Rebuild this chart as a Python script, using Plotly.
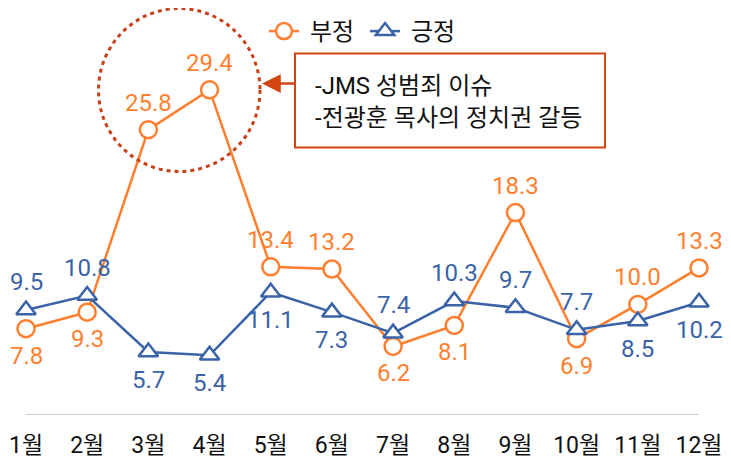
import plotly.graph_objects as go

months = ["1월", "2월", "3월", "4월", "5월", "6월", "7월", "8월", "9월", "10월", "11월", "12월"]
negative = [7.8, 9.3, 25.8, 29.4, 13.4, 13.2, 6.2, 8.1, 18.3, 6.9, 10.0, 13.3]
positive = [9.5, 10.8, 5.7, 5.4, 11.1, 9.3, 7.4, 10.3, 9.7, 7.7, 8.5, 10.2]
negative_labels = ["7.8", "9.3", "25.8", "29.4", "13.4", "13.2", "6.2", "8.1", "18.3", "6.9", "10.0", "13.3"]
positive_labels = ["9.5", "10.8", "5.7", "5.4", "11.1", "7.3", "7.4", "10.3", "9.7", "7.7", "8.5", "10.2"]
neg_label_pos = ["below", "below", "above", "above", "above", "above", "below", "below", "above", "below", "above", "above"]
pos_label_pos = ["above", "above", "below", "below", "below", "below", "above", "above", "above", "above", "below", "below"]
note_lines = ["-JMS 성범죄 이슈", "-전광훈 목사의 정치권 갈등"]
series_names = ["\u00a0부정\u00a0", "\u00a0긍정"]

ORANGE = "#FF7F2F"
BLUE = "#3A63A8"
RED = "#D24512"
FONT = "Roboto, 'Noto Sans CJK KR', sans-serif"

OFF = 8  # page body margin
W, H = 731 - OFF, 458 - OFF
T, B = 12, 43
PH = H - T - B

def py(p):
    # p: pixel y in reference image
    return (H - B - (p - OFF)) / PH

def px(p):
    return (p - OFF) / W

fig = go.Figure()
fig.add_trace(go.Scatter(
    x=months, y=negative, name=series_names[0], mode="lines+markers",
    line=dict(color=ORANGE, width=2.5),
    marker=dict(symbol="circle", size=17, color="white", line=dict(color=ORANGE, width=2.5)),
))
fig.add_trace(go.Scatter(
    x=months, y=positive, name=series_names[1], mode="lines+markers",
    line=dict(color=BLUE, width=2.5),
    marker=dict(symbol="triangle-up", size=17, color="white", line=dict(color=BLUE, width=2.5)),
))

annotations = []
for m, v, t, p in zip(months, negative, negative_labels, neg_label_pos):
    annotations.append(dict(x=m, y=v, text=t, showarrow=False,
                            yshift=27 if p == "above" else -27,
                            font=dict(family=FONT, size=24, color=ORANGE)))
for m, v, t, p in zip(months, positive, positive_labels, pos_label_pos):
    annotations.append(dict(x=m, y=v, text=t, showarrow=False,
                            yshift=28 if p == "above" else -28,
                            font=dict(family=FONT, size=24, color=BLUE)))

for i, line in enumerate(note_lines):
    annotations.append(dict(xref="paper", yref="paper", x=px(313), y=py(86 + 32 * i),
                            xanchor="left", yanchor="middle", text=line, showarrow=False,
                            font=dict(family=FONT, size=24, color="#111111")))

# arrow pointing to the circle
annotations.append(dict(xref="paper", yref="paper", x=px(262), y=py(83.5),
                        ax=34, ay=0, text="", showarrow=True,
                        arrowhead=2, arrowsize=1.5, arrowwidth=2.5, arrowcolor=RED))

shapes = [
    dict(type="line", xref="x", yref="y", x0=months[0], x1=months[-1], y0=0, y1=0,
         line=dict(color="#BFBFBF", width=1.5)),
    dict(type="rect", xref="paper", yref="paper", x0=px(295), x1=px(605), y0=py(147.5), y1=py(53.5),
         line=dict(color=RED, width=2), fillcolor="rgba(0,0,0,0)"),
    dict(type="circle", xref="paper", yref="paper", x0=px(98.5), x1=px(260), y0=py(171.5), y1=py(8.5),
         line=dict(color="#C8401A", width=3, dash="4px,4px")),
]

x_first = 26 - OFF
x_last = 699 - OFF
step = (x_last - x_first) / 11

fig.update_layout(
    width=W, height=H,
    margin=dict(l=0, r=0, t=T, b=B),
    paper_bgcolor="white", plot_bgcolor="white",
    font=dict(family=FONT, size=24, color="#111111"),
    showlegend=True,
    legend=dict(orientation="h", x=px(264), y=py(31.5), xanchor="left", yanchor="middle",
                font=dict(family=FONT, size=24, color="#111111"),
                bgcolor="rgba(0,0,0,0)", itemwidth=30, tracegroupgap=0),
    xaxis=dict(type="category", range=[-x_first / step, 11 + (W - x_last) / step], showgrid=False,
               showline=False, zeroline=False, ticks="", ticklabelstandoff=14,
               tickfont=dict(family=FONT, size=23, color="#111111")),
    yaxis=dict(range=[0, PH / 11.06], visible=False, showgrid=False, zeroline=False),
    annotations=annotations,
    shapes=shapes,
)

fig.write_html("out.html")
